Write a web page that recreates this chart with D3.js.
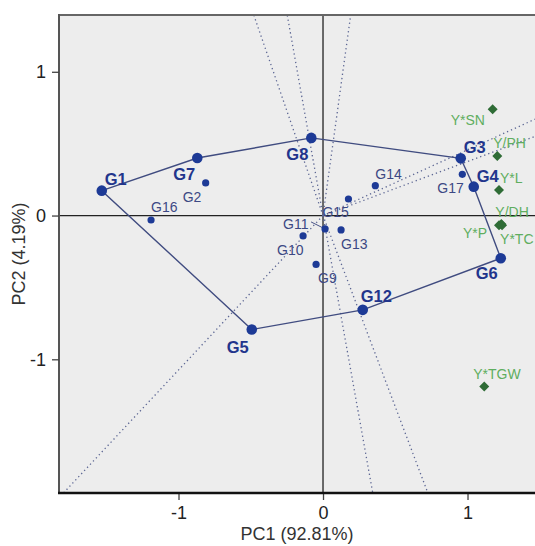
<!DOCTYPE html>
<html>
<head>
<meta charset="utf-8">
<script src="https://cdn.jsdelivr.net/npm/d3@7"></script>
<style>
    html, body { margin: 0; padding: 0; background: #fff; }
    svg { display: block; }
</style>
</head>
<body>
<div id="chart"></div>
<script>
// genotype scores (PC1, PC2)
const genotypes = ['G1', 'G2', 'G3', 'G4', 'G5', 'G6', 'G7', 'G8', 'G9', 'G10', 'G11', 'G12', 'G13', 'G14', 'G15', 'G16', 'G17'];
const genoPc1 = [-1.531, -0.812, 0.953, 1.043, -0.493, 1.230, -0.870, -0.081, -0.048, -0.138, 0.014, 0.275, 0.125, 0.362, 0.176, -1.190, 0.964];
const genoPc2 = [0.173, 0.227, 0.398, 0.201, -0.793, -0.297, 0.400, 0.540, -0.340, -0.142, -0.093, -0.656, -0.100, 0.208, 0.115, -0.031, 0.287];

// polygon vertices, in order
const hull = ['G1', 'G7', 'G8', 'G3', 'G4', 'G6', 'G12', 'G5'];

// traits / environments
const envs = ['Y*SN', 'Y/PH', 'Y*L', 'Y/DH', 'Y*P', 'Y*TC', 'Y*TGW'];
const envPc1 = [1.174, 1.206, 1.218, 1.234, 1.218, 1.239, 1.116];
const envPc2 = [0.739, 0.414, 0.178, -0.058, -0.067, -0.067, -1.190];

const xTicks = [-1, 0, 1];
const yTicks = [-1, 0, 1];
const xTitle = 'PC1 (92.81%)';
const yTitle = 'PC2 (4.19%)';

// label placement (px, relative to the point)
const genoLabelOffset = {
    G1: [3, -6], G2: [-23, 19], G3: [3, -5], G4: [3, -5], G5: [-25, 23], G6: [-25, 21],
    G7: [-24, 22], G8: [-25, 22], G9: [2, 19], G10: [-26, 19], G11: [-42, 0], G12: [-2, -8],
    G13: [0, 19], G14: [0, -7], G15: [-26, 18], G16: [0, -8], G17: [-25, 19]
};
const envLabelOffset = {
    'Y*SN': [-42, 16], 'Y/PH': [-4, -8], 'Y*L': [1, -7], 'Y/DH': [-6, -7],
    'Y*P': [-36, 13], 'Y*TC': [-2, 19], 'Y*TGW': [-11, -8]
};

const width = 535, height = 546;
const plot = { left: 59, right: 535, top: 15, bottom: 493 };
const font = 'Arial, "Liberation Sans", sans-serif';

const x = d3.scaleLinear().domain([-1.827, 1.467]).range([plot.left, plot.right]);
const y = d3.scaleLinear().domain([-1.93, 1.395]).range([plot.bottom, plot.top]);

const genoData = genotypes.map((g, i) => ({ id: g, pc1: genoPc1[i], pc2: genoPc2[i], vertex: hull.includes(g) }));
const genoById = {};
genoData.forEach(d => { genoById[d.id] = d; });
const envData = envs.map((e, i) => ({ id: e, pc1: envPc1[i], pc2: envPc2[i] }));

const svg = d3.select('#chart').append('svg')
    .attr('width', width)
    .attr('height', height)
    .style('font-family', font);

svg.append('defs').append('clipPath')
    .attr('id', 'plotclip')
    .append('rect')
    .attr('x', plot.left)
    .attr('y', plot.top)
    .attr('width', plot.right - plot.left)
    .attr('height', plot.bottom - plot.top);

svg.append('rect')
    .attr('x', plot.left)
    .attr('y', plot.top)
    .attr('width', plot.right - plot.left)
    .attr('height', plot.bottom - plot.top)
    .attr('fill', '#ededed');

const inner = svg.append('g').attr('clip-path', 'url(#plotclip)');

// axes through origin
inner.append('line')
    .attr('x1', plot.left).attr('x2', plot.right)
    .attr('y1', y(0)).attr('y2', y(0))
    .attr('stroke', '#222').attr('stroke-width', 1.3);
inner.append('line')
    .attr('x1', x(0)).attr('x2', x(0))
    .attr('y1', plot.top).attr('y2', plot.bottom)
    .attr('stroke', '#222').attr('stroke-width', 1.3);

// rays from origin perpendicular to each polygon side
const rays = hull.map((id, i) => {
    const a = genoById[id];
    const b = genoById[hull[(i + 1) % hull.length]];
    const dx = b.pc1 - a.pc1;
    const dy = b.pc2 - a.pc2;
    const t = -(a.pc1 * dx + a.pc2 * dy) / (dx * dx + dy * dy);
    const fx = a.pc1 + t * dx;
    const fy = a.pc2 + t * dy;
    const len = Math.sqrt(fx * fx + fy * fy) || 1;
    return { ex: fx / len * 10, ey: fy / len * 10 };
});

inner.append('g').selectAll('line')
    .data(rays)
    .enter().append('line')
    .attr('x1', x(0)).attr('y1', y(0))
    .attr('x2', d => x(d.ex)).attr('y2', d => y(d.ey))
    .attr('stroke', '#5d6794')
    .attr('stroke-width', 1.3)
    .attr('stroke-dasharray', '1.3,3');

// polygon
inner.append('path')
    .datum(hull.map(id => genoById[id]))
    .attr('d', d3.line().x(d => x(d.pc1)).y(d => y(d.pc2)).curve(d3.curveLinearClosed))
    .attr('fill', 'none')
    .attr('stroke', '#404c80')
    .attr('stroke-width', 1.4);

// G11 leader
const g11 = genoById['G11'];
inner.append('line')
    .attr('x1', x(g11.pc1) - 14).attr('y1', y(g11.pc2) - 7)
    .attr('x2', x(g11.pc1) - 2).attr('y2', y(g11.pc2) - 1)
    .attr('stroke', '#4a5488').attr('stroke-width', 1);

// environment markers
inner.append('g').selectAll('path')
    .data(envData)
    .enter().append('path')
    .attr('d', d3.symbol().type(d3.symbolSquare).size(50))
    .attr('transform', d => `translate(${x(d.pc1)},${y(d.pc2)}) rotate(45)`)
    .attr('fill', '#2f6c36');

inner.append('g').selectAll('text')
    .data(envData)
    .enter().append('text')
    .attr('x', d => x(d.pc1) + envLabelOffset[d.id][0])
    .attr('y', d => y(d.pc2) + envLabelOffset[d.id][1])
    .style('font-size', '14px')
    .style('fill', '#5fae5f')
    .text(d => d.id);

// genotype points
inner.append('g').selectAll('circle')
    .data(genoData)
    .enter().append('circle')
    .attr('cx', d => x(d.pc1))
    .attr('cy', d => y(d.pc2))
    .attr('r', d => d.vertex ? 5.3 : 3.6)
    .attr('fill', '#1d3a96');

inner.append('g').selectAll('text')
    .data(genoData)
    .enter().append('text')
    .attr('x', d => x(d.pc1) + genoLabelOffset[d.id][0])
    .attr('y', d => y(d.pc2) + genoLabelOffset[d.id][1])
    .style('font-size', d => d.vertex ? '16.5px' : '14px')
    .style('font-weight', d => d.vertex ? 'bold' : 'normal')
    .style('fill', d => d.vertex ? '#22358c' : '#3c4884')
    .text(d => d.id);

// frame
svg.append('line')
    .attr('x1', plot.left).attr('x2', plot.right)
    .attr('y1', plot.top).attr('y2', plot.top)
    .attr('stroke', '#666').attr('stroke-width', 2);
svg.append('line')
    .attr('x1', plot.left).attr('x2', plot.left)
    .attr('y1', plot.top - 1).attr('y2', plot.bottom)
    .attr('stroke', '#555').attr('stroke-width', 2);

// axes
const xAxis = svg.append('g')
    .attr('transform', `translate(0,${plot.bottom})`)
    .call(d3.axisBottom(x).tickValues(xTicks).tickSize(7).tickPadding(6).tickFormat(d3.format('d')));
const yAxis = svg.append('g')
    .attr('transform', `translate(${plot.left},0)`)
    .call(d3.axisLeft(y).tickValues(yTicks).tickSize(7).tickPadding(6).tickFormat(d3.format('d')));

[xAxis, yAxis].forEach(ax => {
    ax.select('.domain').remove();
    ax.selectAll('line').attr('stroke', '#444').attr('stroke-width', 1.3);
    ax.selectAll('text')
        .style('font-family', font)
        .style('font-size', '18px')
        .style('fill', '#222')
        .text(d => d < 0 ? '-' + Math.abs(d) : d);
});

svg.append('line')
    .attr('x1', plot.left - 1).attr('x2', plot.right)
    .attr('y1', plot.bottom).attr('y2', plot.bottom)
    .attr('stroke', '#111').attr('stroke-width', 2.5);

svg.append('text')
    .attr('x', (plot.left + plot.right) / 2)
    .attr('y', 540)
    .attr('text-anchor', 'middle')
    .style('font-size', '18px')
    .style('fill', '#333')
    .text(xTitle);

svg.append('text')
    .attr('transform', `translate(25,${(plot.top + plot.bottom) / 2}) rotate(-90)`)
    .attr('text-anchor', 'middle')
    .style('font-size', '18px')
    .style('fill', '#333')
    .text(yTitle);
</script>
</body>
</html>
